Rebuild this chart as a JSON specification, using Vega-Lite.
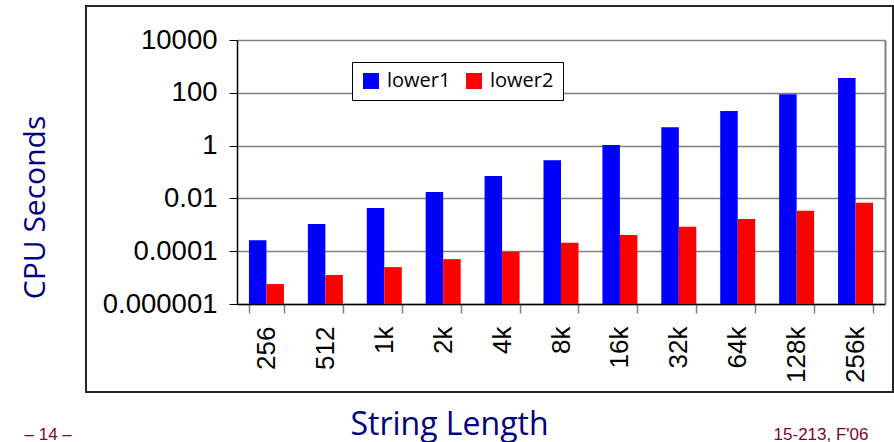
{
  "$schema": "https://vega.github.io/schema/vega-lite/v6.json",
  "width": 807,
  "height": 386,
  "autosize": {"type": "none"},
  "padding": {"left": 86, "top": 6, "right": 1, "bottom": 50},
  "background": "white",
  "config": {
    "view": {"stroke": "#262626", "strokeWidth": 2},
    "axis": {"titleFontWeight": "normal", "labelFontWeight": "normal"}
  },
  "data": {
    "values": [
      {"len": "256", "series": "lower1", "time": 0.00026},
      {"len": "256", "series": "lower2", "time": 0.0000057},
      {"len": "512", "series": "lower1", "time": 0.00107},
      {"len": "512", "series": "lower2", "time": 0.0000126},
      {"len": "1k", "series": "lower1", "time": 0.0043},
      {"len": "1k", "series": "lower2", "time": 0.000025},
      {"len": "2k", "series": "lower1", "time": 0.0174},
      {"len": "2k", "series": "lower2", "time": 0.00005},
      {"len": "4k", "series": "lower1", "time": 0.071},
      {"len": "4k", "series": "lower2", "time": 0.000095},
      {"len": "8k", "series": "lower1", "time": 0.28},
      {"len": "8k", "series": "lower2", "time": 0.00021},
      {"len": "16k", "series": "lower1", "time": 1.05},
      {"len": "16k", "series": "lower2", "time": 0.00041},
      {"len": "32k", "series": "lower1", "time": 5.0},
      {"len": "32k", "series": "lower2", "time": 0.00085},
      {"len": "64k", "series": "lower1", "time": 20.4},
      {"len": "64k", "series": "lower2", "time": 0.00166},
      {"len": "128k", "series": "lower1", "time": 89},
      {"len": "128k", "series": "lower2", "time": 0.0034},
      {"len": "256k", "series": "lower1", "time": 363},
      {"len": "256k", "series": "lower2", "time": 0.0069}
    ]
  },
  "layer": [
    {
      "mark": {"type": "bar"},
      "encoding": {
        "x": {
          "field": "len", "type": "nominal",
          "sort": ["256", "512", "1k", "2k", "4k", "8k", "16k", "32k", "64k", "128k", "256k"],
          "scale": {"range": [151, 799], "paddingInner": 0.406, "paddingOuter": 0.203},
          "axis": {
            "orient": "bottom", "offset": -88,
            "labelAngle": -90, "labelFont": "Liberation Sans", "labelFontSize": 26, "labelColor": "black", "labelPadding": 13,
            "tickBand": "extent", "tickSize": 9, "tickColor": "#808080", "tickWidth": 1.5,
            "domainColor": "black", "domainWidth": 1.5, "grid": false,
            "title": "String Length", "titleFont": "Open Sans", "titleFontSize": 32, "titleColor": "#000080",
            "titleX": 363, "titleY": 130, "titleAlign": "center", "titleBaseline": "alphabetic"
          }
        },
        "xOffset": {"field": "series", "type": "nominal", "sort": ["lower1", "lower2"]},
        "y": {
          "field": "time", "type": "quantitative",
          "scale": {"type": "log", "domain": [0.000001, 10000], "range": [298, 34]},
          "axis": {
            "orient": "left", "offset": -151,
            "values": [0.000001, 0.0001, 0.01, 1, 100, 10000], "format": "~f",
            "labelFont": "Liberation Sans", "labelFontSize": 27.5, "labelColor": "black", "labelPadding": 12,
            "tickSize": 8, "tickColor": "black", "domainColor": "black", "domainWidth": 1.5,
            "grid": true, "gridColor": "#808080", "gridWidth": 1.5,
            "title": "CPU Seconds", "titleFont": "Open Sans", "titleFontSize": 30, "titleColor": "#000080",
            "titleX": -202, "titleY": 201, "titleAngle": -90, "titleAlign": "center", "titleBaseline": "middle"
          }
        },
        "y2": {"datum": 0.000001},
        "color": {
          "field": "series", "type": "nominal",
          "scale": {"domain": ["lower1", "lower2"], "range": ["#0000ff", "#ff0000"]},
          "legend": {
            "orient": "none", "legendX": 266, "legendY": 56, "direction": "horizontal", "columns": 2,
            "title": null, "symbolType": "square", "symbolSize": 256, "symbolStrokeWidth": 0, "symbolOpacity": 1,
            "labelFont": "Open Sans", "labelFontSize": 20, "labelColor": "black", "labelOffset": 6,
            "columnPadding": 13, "padding": 9, "strokeColor": "black", "fillColor": "white"
          }
        }
      }
    },
    {
      "mark": {"type": "bar", "opacity": 0},
      "encoding": {
        "x": {
          "field": "len", "type": "nominal",
          "sort": ["256", "512", "1k", "2k", "4k", "8k", "16k", "32k", "64k", "128k", "256k"],
          "axis": {
            "orient": "bottom", "labels": false, "ticks": false, "domain": false, "grid": false,
            "title": "– 14 –", "titleX": -62, "titleY": 47, "titleAlign": "left", "titleBaseline": "alphabetic",
            "titleFont": "Liberation Sans", "titleFontSize": 17, "titleColor": "#800040"
          }
        },
        "xOffset": {"field": "series", "type": "nominal", "sort": ["lower1", "lower2"]},
        "y": {
          "field": "time", "type": "quantitative",
          "axis": {
            "orient": "right", "offset": -8, "labels": false, "ticks": false, "grid": false,
            "domain": true, "domainColor": "#808080", "domainWidth": 2,
            "title": "15-213, F'06", "titleAngle": 0, "titleX": -17, "titleY": 433, "titleAlign": "right", "titleBaseline": "alphabetic",
            "titleFont": "Liberation Sans", "titleFontSize": 17, "titleColor": "#800040"
          }
        },
        "y2": {"datum": 0.000001}
      }
    }
  ],
  "resolve": {"axis": {"x": "independent", "y": "independent"}}
}
